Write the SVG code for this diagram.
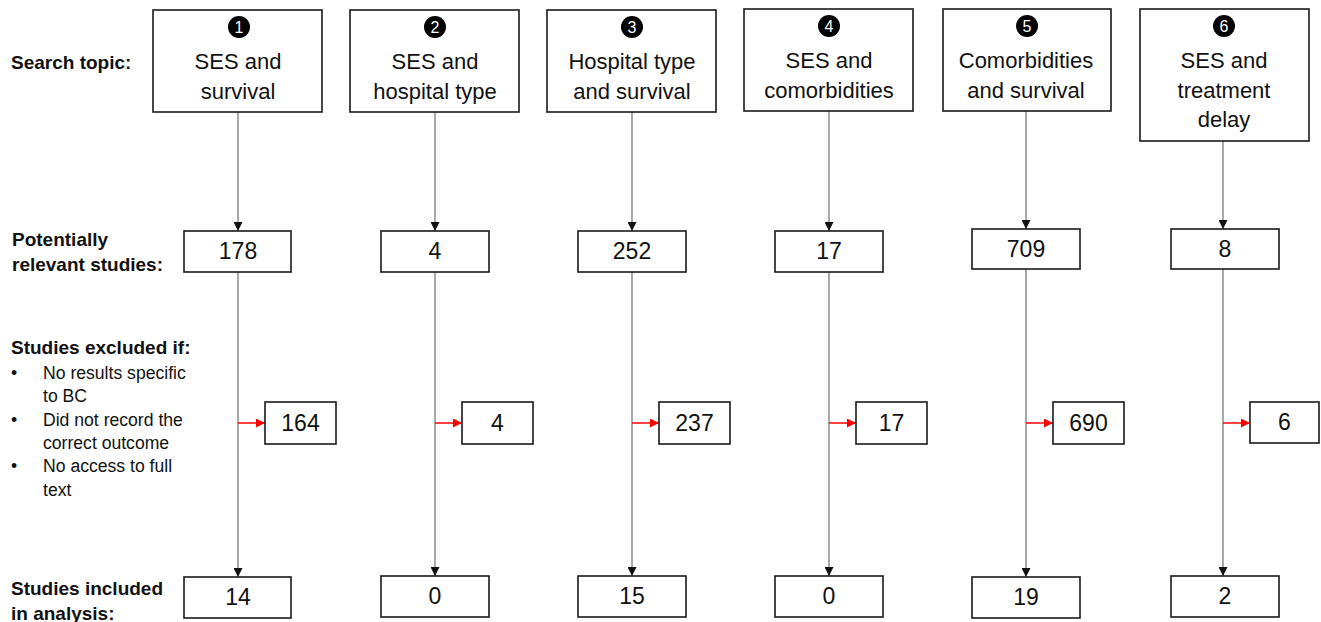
<svg xmlns="http://www.w3.org/2000/svg" width="1321" height="622" viewBox="0 0 1321 622">
<defs>
<style>
.box{fill:#fff;stroke:#1a1a1a;stroke-width:1.6}
.t{font-family:"Liberation Sans",Arial,sans-serif;font-size:22px;fill:#111;text-anchor:middle}
.n{font-family:"Liberation Sans",Arial,sans-serif;font-size:23px;fill:#111;text-anchor:middle}
.d{font-family:"Liberation Sans",Arial,sans-serif;font-size:16px;fill:#fff;text-anchor:middle}
.lb{font-family:"Liberation Sans",Arial,sans-serif;font-size:19px;font-weight:bold;fill:#111}
.lr{font-family:"Liberation Sans",Arial,sans-serif;font-size:17.6px;fill:#111}
.gl{stroke:#7a7a7a;stroke-width:1.3;fill:none}
.rl{stroke:#ff0000;stroke-width:1.5;fill:none}
</style>
<marker id="ab" markerUnits="userSpaceOnUse" markerWidth="9" markerHeight="9" refX="9" refY="4.5" orient="auto" viewBox="0 0 9 9">
<path d="M0,0 L9,4.5 L0,9 z" fill="#111"/>
</marker>
<marker id="ar" markerUnits="userSpaceOnUse" markerWidth="9" markerHeight="9" refX="9" refY="4.5" orient="auto" viewBox="0 0 9 9">
<path d="M0,0 L9,4.5 L0,9 z" fill="#ff0000"/>
</marker>
</defs>
<rect width="1321" height="622" fill="#fff"/>

<g id="labels">
<text class="lb" x="11" y="69">Search topic:</text>
<text class="lb" x="12" y="246">Potentially</text>
<text class="lb" x="12" y="271">relevant studies:</text>
<text class="lb" x="11" y="354">Studies excluded if:</text>
<text class="lr" x="11" y="379">•</text><text class="lr" x="43" y="379">No results specific</text>
<text class="lr" x="43" y="402">to BC</text>
<text class="lr" x="11" y="426">•</text><text class="lr" x="43" y="426">Did not record the</text>
<text class="lr" x="43" y="449">correct outcome</text>
<text class="lr" x="11" y="472">•</text><text class="lr" x="43" y="472">No access to full</text>
<text class="lr" x="43" y="496">text</text>
<text class="lb" x="11" y="595">Studies included</text>
<text class="lb" x="11" y="620">in analysis:</text>
</g>

<g id="connectors">
<line class="gl" x1="238" y1="112" x2="238" y2="231" marker-end="url(#ab)"/>
<line class="gl" x1="435" y1="112" x2="435" y2="231" marker-end="url(#ab)"/>
<line class="gl" x1="632" y1="112" x2="632" y2="231" marker-end="url(#ab)"/>
<line class="gl" x1="829" y1="111" x2="829" y2="231" marker-end="url(#ab)"/>
<line class="gl" x1="1026" y1="111" x2="1026" y2="229" marker-end="url(#ab)"/>
<line class="gl" x1="1223" y1="141" x2="1223" y2="229" marker-end="url(#ab)"/>

<line class="gl" x1="238" y1="272" x2="238" y2="577" marker-end="url(#ab)"/>
<line class="gl" x1="435" y1="272" x2="435" y2="576" marker-end="url(#ab)"/>
<line class="gl" x1="632" y1="272" x2="632" y2="576" marker-end="url(#ab)"/>
<line class="gl" x1="829" y1="272" x2="829" y2="576" marker-end="url(#ab)"/>
<line class="gl" x1="1026" y1="269" x2="1026" y2="577" marker-end="url(#ab)"/>
<line class="gl" x1="1223" y1="269" x2="1223" y2="576" marker-end="url(#ab)"/>

<line class="rl" x1="238" y1="423" x2="265" y2="423" marker-end="url(#ar)"/>
<line class="rl" x1="435" y1="423" x2="462" y2="423" marker-end="url(#ar)"/>
<line class="rl" x1="632" y1="423" x2="659" y2="423" marker-end="url(#ar)"/>
<line class="rl" x1="829" y1="423" x2="856" y2="423" marker-end="url(#ar)"/>
<line class="rl" x1="1026" y1="423" x2="1053" y2="423" marker-end="url(#ar)"/>
<line class="rl" x1="1223" y1="423" x2="1250" y2="423" marker-end="url(#ar)"/>
</g>

<g id="topic1">
<rect class="box" x="153" y="10" width="169" height="102"/>
<circle cx="239" cy="27" r="11" fill="#000"/><text class="d" x="239" y="33">1</text>
<text class="t" x="238" y="69">SES and</text>
<text class="t" x="238" y="99">survival</text>
</g>
<g id="topic2">
<rect class="box" x="350" y="10" width="169" height="102"/>
<circle cx="435" cy="27" r="11" fill="#000"/><text class="d" x="435" y="33">2</text>
<text class="t" x="435" y="69">SES and</text>
<text class="t" x="435" y="99">hospital type</text>
</g>
<g id="topic3">
<rect class="box" x="547" y="10" width="169" height="102"/>
<circle cx="632" cy="27" r="11" fill="#000"/><text class="d" x="632" y="33">3</text>
<text class="t" x="632" y="69">Hospital type</text>
<text class="t" x="632" y="99">and survival</text>
</g>
<g id="topic4">
<rect class="box" x="744" y="9" width="169" height="102"/>
<circle cx="829" cy="26" r="11" fill="#000"/><text class="d" x="829" y="32">4</text>
<text class="t" x="829" y="68">SES and</text>
<text class="t" x="829" y="98">comorbidities</text>
</g>
<g id="topic5">
<rect class="box" x="943" y="9" width="168" height="102"/>
<circle cx="1027" cy="26" r="11" fill="#000"/><text class="d" x="1027" y="32">5</text>
<text class="t" x="1026" y="68">Comorbidities</text>
<text class="t" x="1026" y="98">and survival</text>
</g>
<g id="topic6">
<rect class="box" x="1140" y="9" width="169" height="132"/>
<circle cx="1224" cy="26" r="11" fill="#000"/><text class="d" x="1224" y="32">6</text>
<text class="t" x="1224" y="68">SES and</text>
<text class="t" x="1224" y="98">treatment</text>
<text class="t" x="1224" y="127">delay</text>
</g>

<g id="relevant1"><rect class="box" x="184" y="231" width="107" height="41"/><text class="n" x="238" y="259">178</text></g>
<g id="relevant2"><rect class="box" x="381" y="231" width="108" height="41"/><text class="n" x="435" y="259">4</text></g>
<g id="relevant3"><rect class="box" x="578" y="231" width="108" height="41"/><text class="n" x="632" y="259">252</text></g>
<g id="relevant4"><rect class="box" x="775" y="231" width="108" height="41"/><text class="n" x="829" y="259">17</text></g>
<g id="relevant5"><rect class="box" x="972" y="229" width="108" height="40"/><text class="n" x="1026" y="257">709</text></g>
<g id="relevant6"><rect class="box" x="1171" y="229" width="108" height="40"/><text class="n" x="1225" y="257">8</text></g>

<g id="excluded1"><rect class="box" x="265" y="402" width="71" height="42"/><text class="n" x="300.5" y="431">164</text></g>
<g id="excluded2"><rect class="box" x="462" y="402" width="71" height="42"/><text class="n" x="497.5" y="431">4</text></g>
<g id="excluded3"><rect class="box" x="659" y="402" width="71" height="42"/><text class="n" x="694.5" y="431">237</text></g>
<g id="excluded4"><rect class="box" x="856" y="402" width="71" height="42"/><text class="n" x="891.5" y="431">17</text></g>
<g id="excluded5"><rect class="box" x="1053" y="402" width="71" height="42"/><text class="n" x="1088.5" y="431">690</text></g>
<g id="excluded6"><rect class="box" x="1250" y="402" width="69" height="41"/><text class="n" x="1284.5" y="430">6</text></g>

<g id="included1"><rect class="box" x="184" y="577" width="107" height="41"/><text class="n" x="238" y="605">14</text></g>
<g id="included2"><rect class="box" x="381" y="576" width="108" height="41"/><text class="n" x="435" y="604">0</text></g>
<g id="included3"><rect class="box" x="578" y="576" width="108" height="41"/><text class="n" x="632" y="604">15</text></g>
<g id="included4"><rect class="box" x="775" y="576" width="108" height="41"/><text class="n" x="829" y="604">0</text></g>
<g id="included5"><rect class="box" x="972" y="577" width="108" height="41"/><text class="n" x="1026" y="605">19</text></g>
<g id="included6"><rect class="box" x="1171" y="576" width="108" height="41"/><text class="n" x="1225" y="604">2</text></g>
</svg>
